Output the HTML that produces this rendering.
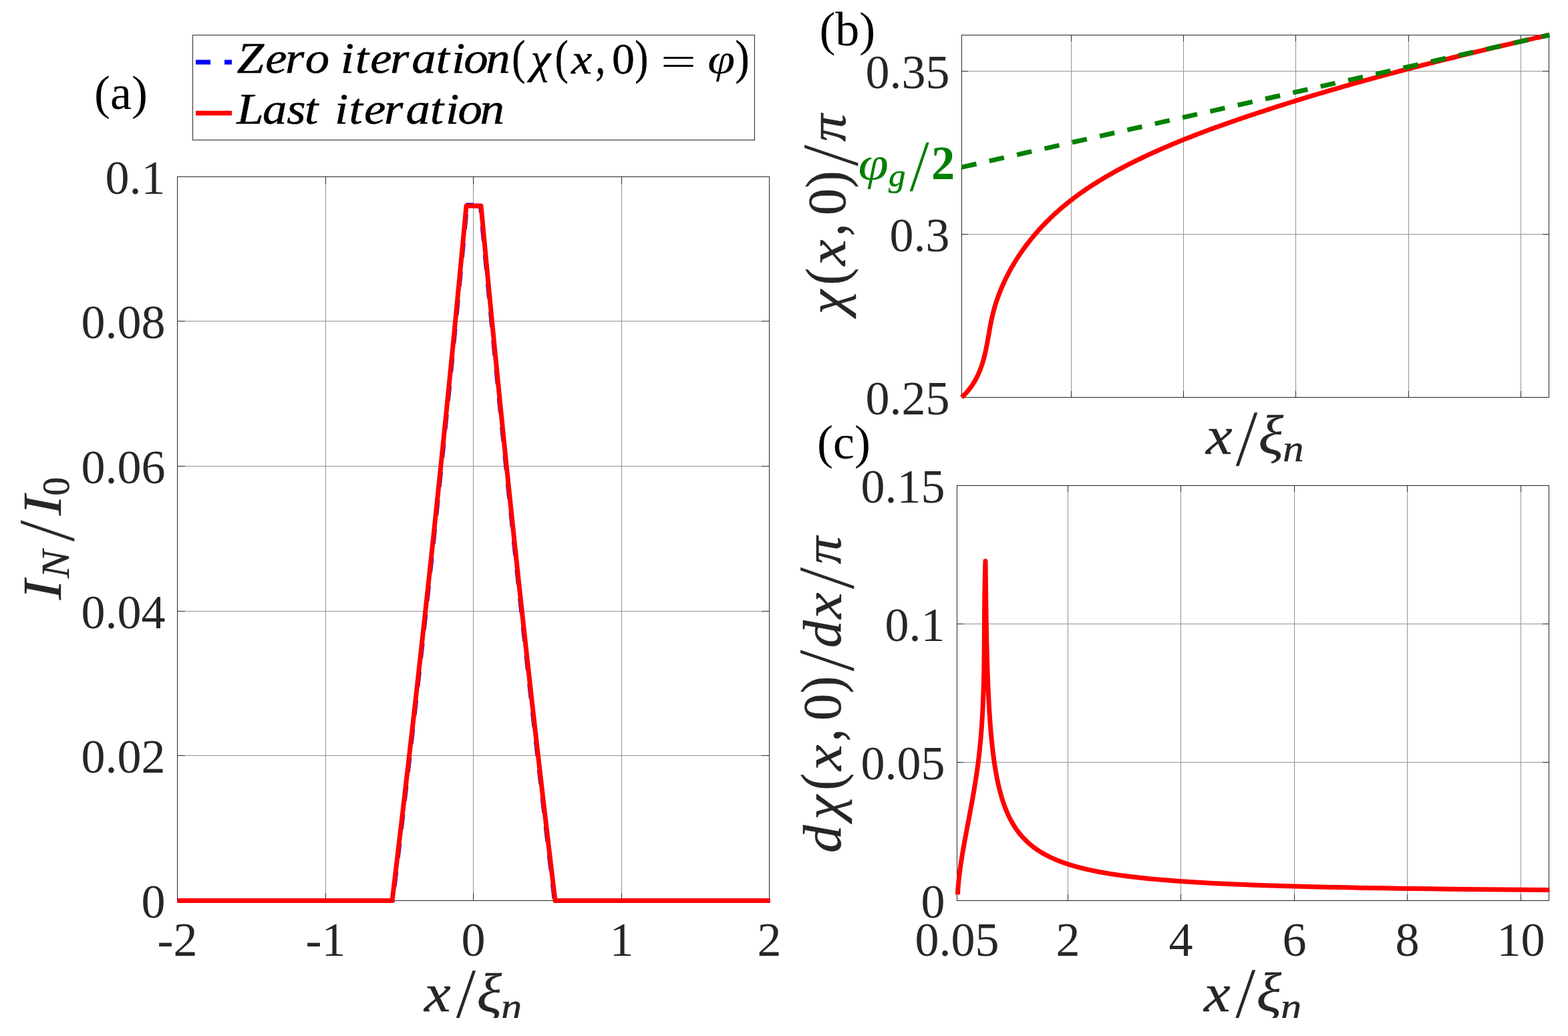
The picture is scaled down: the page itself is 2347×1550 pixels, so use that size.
<!DOCTYPE html>
<html lang="en"><head><meta charset="utf-8"><title>Figure: normal current and phase profiles</title>
<style>html,body{margin:0;padding:0;background:#fff}body{width:2347px;height:1550px;overflow:hidden}svg{display:block;font-family:"Liberation Serif","DejaVu Serif",serif}text{white-space:pre}</style></head><body>
<svg width="2347" height="1550" viewBox="0 0 2347 1550">
<defs><clipPath id="cb"><rect x="0" y="0" width="2347" height="1523"/></clipPath></defs>
<rect width="2347" height="1550" fill="#fff"/>
<path d="M487.5 264.5V1347.5M708.5 264.5V1347.5M930.5 264.5V1347.5M265.5 1130.5H1151.5M265.5 914.5H1151.5M265.5 697.5H1151.5M265.5 480.5H1151.5" stroke="#939393" stroke-width="1" fill="none"/>
<rect x="265.5" y="264.5" width="886" height="1083" stroke="#262626" stroke-width="1" fill="none"/>
<path d="M487.5 1347.5v-11.5M487.5 264.5v11.5M708.5 1347.5v-11.5M708.5 264.5v11.5M930.5 1347.5v-11.5M930.5 264.5v11.5M265.5 1130.5h11.5M1151.5 1130.5h-11.5M265.5 914.5h11.5M1151.5 914.5h-11.5M265.5 697.5h11.5M1151.5 697.5h-11.5M265.5 480.5h11.5M1151.5 480.5h-11.5" stroke="#262626" stroke-width="1" fill="none"/>
<path d="M265.5 1347.5L587.91 1347.5L593.11 1304.19L598.26 1260.88L603.37 1217.56L608.42 1174.25L613.42 1130.94L618.37 1087.62L623.27 1044.31L628.12 1001L632.92 957.69L637.67 914.38L642.37 871.06L647.02 827.75L651.62 784.44L656.17 741.12L660.67 697.81L665.12 654.5L669.52 611.19L673.87 567.88L678.16 524.56L682.41 481.25L686.61 437.94L690.76 394.62L694.85 351.31L698.9 308L719.1 308L723.15 351.31L727.24 394.62L731.39 437.94L735.59 481.25L739.84 524.56L744.13 567.88L748.48 611.19L752.88 654.5L757.33 697.81L761.83 741.12L766.38 784.44L770.98 827.75L775.63 871.06L780.33 914.38L785.08 957.69L789.88 1001L794.73 1044.31L799.63 1087.62L804.58 1130.94L809.58 1174.25L814.63 1217.56L819.74 1260.88L824.89 1304.19L830.09 1347.5L1152.5 1347.5" stroke="#0000ff" stroke-width="6.4" fill="none" stroke-linejoin="round" stroke-dasharray="22 21"/>
<path d="M697.6 307L708.6 307" stroke="#0000ff" stroke-width="7" fill="none" stroke-linejoin="round"/>
<path d="M265.5 1347.5L587.01 1347.5L592.21 1304.19L597.36 1260.88L602.47 1217.56L607.52 1174.25L612.52 1130.94L617.47 1087.62L622.37 1044.31L627.22 1001L632.02 957.69L636.77 914.38L641.47 871.06L646.12 827.75L650.72 784.44L655.27 741.12L659.77 697.81L664.22 654.5L668.62 611.19L672.97 567.88L677.26 524.56L681.51 481.25L685.71 437.94L689.86 394.62L693.95 351.31L698 308L720 308L724.05 351.31L728.14 394.62L732.29 437.94L736.49 481.25L740.74 524.56L745.03 567.88L749.38 611.19L753.78 654.5L758.23 697.81L762.73 741.12L767.28 784.44L771.88 827.75L776.53 871.06L781.23 914.38L785.98 957.69L790.78 1001L795.63 1044.31L800.53 1087.62L805.48 1130.94L810.48 1174.25L815.53 1217.56L820.64 1260.88L825.79 1304.19L830.99 1347.5L1152.5 1347.5" stroke="#ff0000" stroke-width="7" fill="none" stroke-linejoin="round"/>
<path d="M1603.5 52.5V594.5M1771.5 52.5V594.5M1939.5 52.5V594.5M2108.5 52.5V594.5M2276.5 52.5V594.5M1439.5 350.5H2318.5M1439.5 106.5H2318.5" stroke="#939393" stroke-width="1" fill="none"/>
<rect x="1439.5" y="52.5" width="879" height="542" stroke="#262626" stroke-width="1" fill="none"/>
<path d="M1603.5 594.5v-9.5M1603.5 52.5v9.5M1771.5 594.5v-9.5M1771.5 52.5v9.5M1939.5 594.5v-9.5M1939.5 52.5v9.5M2108.5 594.5v-9.5M2108.5 52.5v9.5M2276.5 594.5v-9.5M2276.5 52.5v9.5M1439.5 350.5h9.5M2318.5 350.5h-9.5M1439.5 106.5h9.5M2318.5 106.5h-9.5" stroke="#262626" stroke-width="1" fill="none"/>
<path d="M1439.5 594.5L1442.76 591.41L1445.82 588.21L1448.71 584.92L1451.42 581.54L1453.96 578.08L1456.34 574.53L1458.57 570.91L1460.65 567.22L1462.59 563.46L1464.39 559.64L1466.06 555.76L1467.62 551.84L1469.06 547.86L1470.39 543.84L1471.62 539.79L1472.76 535.7L1473.81 531.58L1474.79 527.44L1475.7 523.28L1476.56 519.1L1477.37 514.9L1478.15 510.7L1478.9 506.48L1479.64 502.26L1480.38 498.03L1481.12 493.81L1481.89 489.59L1482.68 485.38L1483.51 481.18L1484.39 476.99L1485.33 472.82L1486.34 468.67L1487.42 464.54L1488.57 460.44L1489.79 456.35L1491.07 452.28L1492.42 448.24L1493.83 444.22L1495.31 440.23L1496.85 436.26L1498.45 432.31L1500.12 428.39L1501.84 424.49L1503.63 420.62L1505.47 416.77L1507.37 412.95L1509.33 409.16L1511.34 405.4L1513.41 401.66L1515.53 397.95L1517.71 394.27L1519.94 390.62L1522.22 387L1524.55 383.41L1526.93 379.85L1529.36 376.32L1531.84 372.83L1534.36 369.36L1536.93 365.93L1539.55 362.53L1542.21 359.16L1544.91 355.83L1547.65 352.53L1550.44 349.27L1553.27 346.04L1556.14 342.85L1559.04 339.69L1561.99 336.57L1564.97 333.48L1567.98 330.44L1571.04 327.43L1574.12 324.46L1577.24 321.53L1580.4 318.63L1583.58 315.78L1586.8 312.96L1590.04 310.19L1593.32 307.45L1596.62 304.74L1599.96 302.07L1603.32 299.44L1606.7 296.85L1610.12 294.28L1613.56 291.76L1617.02 289.26L1620.51 286.8L1624.02 284.37L1627.55 281.97L1631.11 279.6L1634.69 277.26L1638.29 274.96L1641.91 272.68L1645.54 270.43L1649.2 268.21L1652.88 266.01L1656.57 263.84L1660.28 261.7L1664 259.59L1667.74 257.49L1671.5 255.43L1675.26 253.39L1679.05 251.37L1682.84 249.37L1686.65 247.4L1690.46 245.44L1694.29 243.51L1698.13 241.6L1701.97 239.71L1705.83 237.84L1709.69 235.99L1713.56 234.15L1717.44 232.33L1721.32 230.54L1725.22 228.75L1729.12 226.99L1733.02 225.24L1736.94 223.51L1740.86 221.8L1744.78 220.1L1748.72 218.42L1752.66 216.75L1756.6 215.09L1760.55 213.46L1764.51 211.83L1768.47 210.22L1772.44 208.62L1776.42 207.04L1780.39 205.47L1784.38 203.91L1788.37 202.37L1792.36 200.83L1796.36 199.31L1800.36 197.8L1804.37 196.3L1808.38 194.81L1812.39 193.33L1816.41 191.86L1820.43 190.4L1824.46 188.96L1828.49 187.52L1832.52 186.08L1836.55 184.66L1840.59 183.25L1844.63 181.84L1848.68 180.44L1852.72 179.05L1856.77 177.66L1860.82 176.28L1864.87 174.91L1868.93 173.54L1872.98 172.18L1877.04 170.82L1881.1 169.48L1885.16 168.13L1889.22 166.8L1893.29 165.46L1897.36 164.14L1901.43 162.82L1905.5 161.51L1909.57 160.2L1913.65 158.9L1917.72 157.6L1921.8 156.31L1925.88 155.02L1929.96 153.74L1934.04 152.47L1938.13 151.2L1942.22 149.93L1946.3 148.68L1950.39 147.42L1954.49 146.18L1958.58 144.93L1962.67 143.7L1966.77 142.46L1970.87 141.24L1974.97 140.01L1979.07 138.8L1983.17 137.58L1987.27 136.38L1991.38 135.17L1995.49 133.98L1999.59 132.78L2003.7 131.6L2007.82 130.41L2011.93 129.23L2016.04 128.06L2020.16 126.89L2024.27 125.73L2028.39 124.57L2032.51 123.41L2036.63 122.26L2040.75 121.11L2044.88 119.97L2049 118.83L2053.13 117.7L2057.25 116.57L2061.38 115.44L2065.51 114.32L2069.64 113.21L2073.77 112.09L2077.91 110.98L2082.04 109.88L2086.17 108.78L2090.31 107.68L2094.45 106.59L2098.59 105.5L2102.72 104.41L2106.87 103.33L2111.01 102.25L2115.15 101.18L2119.29 100.11L2123.44 99.04L2127.58 97.98L2131.73 96.92L2135.87 95.86L2140.02 94.81L2144.17 93.76L2148.32 92.71L2152.47 91.67L2156.62 90.63L2160.77 89.59L2164.93 88.56L2169.08 87.53L2173.23 86.5L2177.39 85.48L2181.55 84.46L2185.7 83.44L2189.86 82.43L2194.02 81.41L2198.18 80.4L2202.34 79.4L2206.5 78.39L2210.66 77.39L2214.82 76.4L2218.98 75.4L2223.14 74.41L2227.31 73.42L2231.47 72.43L2235.63 71.44L2239.8 70.46L2243.96 69.48L2248.13 68.5L2252.29 67.53L2256.46 66.55L2260.63 65.58L2264.79 64.61L2268.96 63.65L2273.13 62.68L2277.3 61.72L2281.47 60.76L2285.64 59.8L2289.81 58.84L2293.98 57.89L2298.15 56.94L2302.32 55.99L2306.49 55.04L2310.66 54.09L2314.83 53.14L2319 52.2" stroke="#ff0000" stroke-width="7" fill="none" stroke-linejoin="round"/>
<path d="M1439.5 250.2L2319.5 52.3" stroke="#008000" stroke-width="7" fill="none" stroke-linejoin="round" stroke-dasharray="22.6 19.75"/>
<path d="M1598.5 726.5V1347.5M1767.5 726.5V1347.5M1937.5 726.5V1347.5M2106.5 726.5V1347.5M2276.5 726.5V1347.5M1432.5 1140.5H2318.5M1432.5 933.5H2318.5" stroke="#939393" stroke-width="1" fill="none"/>
<rect x="1432.5" y="726.5" width="886" height="621" stroke="#262626" stroke-width="1" fill="none"/>
<path d="M1598.5 1347.5v-9.5M1598.5 726.5v9.5M1767.5 1347.5v-9.5M1767.5 726.5v9.5M1937.5 1347.5v-9.5M1937.5 726.5v9.5M2106.5 1347.5v-9.5M2106.5 726.5v9.5M2276.5 1347.5v-9.5M2276.5 726.5v9.5M1432.5 1140.5h9.5M2318.5 1140.5h-9.5M1432.5 933.5h9.5M2318.5 933.5h-9.5" stroke="#262626" stroke-width="1" fill="none"/>
<path d="M1433.4 1338.4L1433.73 1332.79L1434.15 1327.19L1434.64 1321.58L1435.2 1315.98L1435.82 1310.37L1436.51 1304.77L1437.25 1299.16L1438.05 1293.56L1438.89 1287.95L1439.77 1282.34L1440.7 1276.74L1441.65 1271.13L1442.64 1265.53L1443.65 1259.92L1444.67 1254.32L1445.72 1248.71L1446.77 1243.1L1447.83 1237.5L1448.89 1231.89L1449.95 1226.29L1451.01 1220.68L1452.06 1215.08L1453.1 1209.47L1454.13 1203.87L1455.15 1198.26L1456.15 1192.65L1457.14 1187.05L1458.1 1181.44L1459.03 1175.84L1459.94 1170.23L1460.82 1164.63L1461.67 1159.02L1462.48 1153.41L1463.25 1147.81L1463.99 1142.2L1464.68 1136.6L1465.35 1130.99L1465.97 1125.39L1466.56 1119.78L1467.12 1114.18L1467.64 1108.57L1468.14 1102.96L1468.6 1097.36L1469.03 1091.75L1469.43 1086.15L1469.81 1080.54L1470.16 1074.94L1470.49 1069.33L1470.79 1063.72L1471.07 1058.12L1471.32 1052.51L1471.56 1046.91L1471.77 1041.3L1471.97 1035.7L1472.15 1030.09L1472.31 1024.49L1472.46 1018.88L1472.59 1013.27L1472.7 1007.67L1472.81 1002.06L1472.9 996.46L1472.98 990.85L1473.05 985.25L1473.12 979.64L1473.17 974.03L1473.22 968.43L1473.27 962.82L1473.31 957.22L1473.34 951.61L1473.38 946.01L1473.41 940.4L1473.45 934.8L1473.48 929.19L1473.52 923.58L1473.56 917.98L1473.6 912.37L1473.65 906.77L1473.7 901.16L1473.76 895.56L1473.83 889.95L1473.91 884.34L1474 878.74L1474.1 873.13L1474.21 867.53L1474.34 861.92L1474.48 856.32L1474.64 850.71L1474.81 845.11L1475 839.5L1475.17 848.4L1475.18 849.08L1475.18 849.8L1475.19 850.53L1475.2 851.3L1475.21 852.09L1475.21 852.91L1475.22 853.76L1475.23 854.65L1475.24 855.56L1475.25 856.5L1475.26 857.48L1475.27 858.49L1475.28 859.54L1475.29 860.61L1475.3 861.73L1475.32 862.88L1475.33 864.07L1475.34 865.3L1475.35 866.56L1475.37 867.87L1475.38 869.21L1475.4 870.6L1475.41 872.02L1475.43 873.49L1475.45 875L1475.47 876.55L1475.48 878.15L1475.5 879.79L1475.52 881.47L1475.54 883.2L1475.57 884.98L1475.59 886.79L1475.61 888.66L1475.64 890.57L1475.66 892.52L1475.69 894.52L1475.71 896.57L1475.74 898.66L1475.77 900.8L1475.8 902.99L1475.83 905.22L1475.87 907.5L1475.9 909.82L1475.94 912.19L1475.98 914.61L1476.01 917.06L1476.05 919.57L1476.1 922.12L1476.14 924.71L1476.18 927.34L1476.23 930.02L1476.28 932.74L1476.33 935.5L1476.38 938.31L1476.44 941.15L1476.5 944.04L1476.55 946.96L1476.62 949.92L1476.68 952.92L1476.75 955.96L1476.82 959.03L1476.89 962.14L1476.96 965.28L1477.04 968.46L1477.12 971.67L1477.21 974.91L1477.29 978.18L1477.38 981.48L1477.48 984.81L1477.58 988.16L1477.68 991.55L1477.79 994.96L1477.9 998.39L1478.01 1001.85L1478.13 1005.33L1478.25 1008.83L1478.38 1012.35L1478.52 1015.9L1478.66 1019.46L1478.8 1023.03L1478.95 1026.63L1479.11 1030.24L1479.27 1033.86L1479.44 1037.49L1479.62 1041.14L1479.8 1044.8L1479.99 1048.46L1480.19 1052.14L1480.39 1055.82L1480.61 1059.51L1480.83 1063.2L1481.06 1066.9L1481.3 1070.6L1481.55 1074.3L1481.81 1078L1482.08 1081.7L1482.36 1085.4L1482.65 1089.1L1482.96 1092.79L1483.27 1096.48L1483.6 1100.16L1483.94 1103.84L1484.29 1107.51L1484.66 1111.16L1485.05 1114.81L1485.44 1118.45L1485.86 1122.08L1486.29 1125.69L1486.74 1129.29L1487.2 1132.87L1487.69 1136.44L1488.19 1140L1488.71 1143.53L1489.25 1147.04L1489.82 1150.54L1490.41 1154.02L1491.02 1157.47L1491.65 1160.9L1492.31 1164.31L1493 1167.7L1493.71 1171.06L1494.45 1174.39L1495.23 1177.7L1496.03 1180.98L1496.86 1184.24L1497.73 1187.46L1498.63 1190.66L1499.56 1193.82L1500.54 1196.96L1501.55 1200.06L1502.6 1203.14L1503.7 1206.17L1504.83 1209.18L1506.02 1212.15L1507.25 1215.09L1508.52 1218L1509.85 1220.86L1511.24 1223.7L1512.67 1226.49L1514.16 1229.25L1515.72 1231.97L1517.33 1234.66L1519.01 1237.3L1520.75 1239.91L1522.57 1242.48L1524.45 1245.01L1526.41 1247.5L1528.45 1249.95L1530.57 1252.36L1532.77 1254.73L1535.06 1257.06L1537.44 1259.35L1539.92 1261.6L1542.49 1263.81L1545.17 1265.97L1547.95 1268.1L1550.84 1270.19L1553.85 1272.23L1556.97 1274.24L1560.22 1276.2L1563.6 1278.12L1567.11 1280L1570.76 1281.84L1574.56 1283.64L1578.5 1285.4L1582.61 1287.12L1586.87 1288.8L1591.31 1290.44L1595.92 1292.04L1600.71 1293.6L1605.69 1295.12L1610.87 1296.6L1616.26 1298.04L1621.86 1299.45L1627.68 1300.82L1633.73 1302.15L1640.02 1303.44L1646.56 1304.7L1653.37 1305.92L1660.44 1307.11L1667.79 1308.26L1675.43 1309.37L1683.37 1310.45L1691.63 1311.5L1700.22 1312.51L1709.15 1313.49L1718.43 1314.44L1728.08 1315.36L1738.11 1316.25L1748.54 1317.11L1759.38 1317.93L1770.65 1318.73L1782.37 1319.5L1794.56 1320.24L1807.22 1320.95L1820.39 1321.64L1834.08 1322.3L1848.32 1322.94L1863.11 1323.55L1878.5 1324.13L1894.49 1324.7L1911.12 1325.24L1928.41 1325.75L1946.38 1326.25L1965.07 1326.72L1984.49 1327.17L2004.69 1327.61L2025.68 1328.02L2047.51 1328.42L2070.2 1328.8L2093.8 1329.16L2118.33 1329.5L2143.83 1329.82L2170.34 1330.13L2197.9 1330.43L2226.56 1330.71L2256.35 1330.98L2287.32 1331.23L2319.52 1331.47" stroke="#ff0000" stroke-width="7" fill="none" stroke-linejoin="round"/>
<rect x="288.5" y="52.5" width="841" height="157" fill="#fff" stroke="#262626" stroke-width="1"/>
<path d="M293 93H315M336 93H347" stroke="#0000ff" stroke-width="7" fill="none"/>
<path d="M293 169.3H347" stroke="#ff0000" stroke-width="7" fill="none"/>
<text transform="translate(0 108.8) scale(1.12 1)" x="316.57 354.81 381.25 407.77 419.77 455.19 474.78 494.9 521.48 550.34 582.64 603.58 619.91 649.43" y="0" font-size="65" font-style="italic" fill="#000" stroke="#000" stroke-width="0.55">Zero iteration</text>
<g><text transform="translate(769 108.8) scale(0.9253 1.1029)" x="-2.85" y="0.89" font-size="64.8" fill="#000" stroke="#000" stroke-width="0.54">(</text><text transform="translate(789.2 108.8) scale(1.0392 0.9674)" x="5.19" y="-0.06" font-size="64.8" font-style="italic" fill="#000" stroke="#000" stroke-width="0.5">χ</text><text transform="translate(833.3 108.8) scale(0.9193 1.1029)" x="-2.85" y="0.89" font-size="64.8" fill="#000" stroke="#000" stroke-width="0.54">(</text><text transform="translate(854.3 108.8) scale(1.0764 0.9935)" x="0.79" y="0.72" font-size="64.8" font-style="italic" fill="#000" stroke="#000" stroke-width="0.44">x</text><text transform="translate(893.6 108.8) scale(0.9015 1.1681)" x="-2.47" y="0.8" font-size="64.8" fill="#000" stroke="#000" stroke-width="0.53">,</text><text transform="translate(918.6 108.8) scale(1.045 1.0196)" x="-2.47" y="0.77" font-size="64.8" fill="#000" stroke="#000" stroke-width="0.48">0</text><text transform="translate(952.1 108.8) scale(0.9253 1.1029)" x="-2.09" y="0.89" font-size="64.8" fill="#000" stroke="#000" stroke-width="0.54">)</text><text transform="translate(993.4 108.8) scale(1.4625 0.936)" x="-3.23" y="4.21" font-size="64.8" fill="#000">=</text><text transform="translate(1061.33 108.8) scale(1.14 0.9495)" x="-1.93" y="0.2" font-size="64.8" font-style="italic" fill="#000">φ</text><text transform="translate(1102.6 108.8) scale(0.9794 1.1029)" x="-2.09" y="0.89" font-size="64.8" fill="#000" stroke="#000" stroke-width="0.53">)</text></g>
<text transform="translate(0 185.1) scale(1.12 1)" x="316.35 350.83 383.21 407.24 419.24 447.38 466.44 486.56 513.48 542.4 574.7 595.64 611.96 641.49" y="0" font-size="65" font-style="italic" fill="#000" stroke="#000" stroke-width="0.55">Last iteration</text>
<text x="141" y="162.8" font-size="72" text-anchor="start" fill="#000">(a)</text>
<text x="1226.4" y="67.7" font-size="72" text-anchor="start" fill="#000">(b)</text>
<text x="1223" y="685.6" font-size="72" text-anchor="start" fill="#000">(c)</text>
<text x="247.5" y="289.5" font-size="72" text-anchor="end" fill="#262626">0.1</text>
<text x="247.5" y="505.5" font-size="72" text-anchor="end" fill="#262626">0.08</text>
<text x="247.5" y="722.5" font-size="72" text-anchor="end" fill="#262626">0.06</text>
<text x="247.5" y="939.5" font-size="72" text-anchor="end" fill="#262626">0.04</text>
<text x="247.5" y="1155.5" font-size="72" text-anchor="end" fill="#262626">0.02</text>
<text x="247.5" y="1372.5" font-size="72" text-anchor="end" fill="#262626">0</text>
<text x="265.5" y="1430" font-size="72" text-anchor="middle" fill="#262626">-2</text>
<text x="487.5" y="1430" font-size="72" text-anchor="middle" fill="#262626">-1</text>
<text x="708.5" y="1430" font-size="72" text-anchor="middle" fill="#262626">0</text>
<text x="930.5" y="1430" font-size="72" text-anchor="middle" fill="#262626">1</text>
<text x="1151.5" y="1430" font-size="72" text-anchor="middle" fill="#262626">2</text>
<text x="1421.5" y="131.5" font-size="72" text-anchor="end" fill="#262626">0.35</text>
<text x="1421.5" y="375.5" font-size="72" text-anchor="end" fill="#262626">0.3</text>
<text x="1421.5" y="619.5" font-size="72" text-anchor="end" fill="#262626">0.25</text>
<text x="1414.5" y="751.5" font-size="72" text-anchor="end" fill="#262626">0.15</text>
<text x="1414.5" y="958.5" font-size="72" text-anchor="end" fill="#262626">0.1</text>
<text x="1414.5" y="1165.5" font-size="72" text-anchor="end" fill="#262626">0.05</text>
<text x="1414.5" y="1372.5" font-size="72" text-anchor="end" fill="#262626">0</text>
<text x="1432.5" y="1430" font-size="72" text-anchor="middle" fill="#262626">0.05</text>
<text x="1598.5" y="1430" font-size="72" text-anchor="middle" fill="#262626">2</text>
<text x="1767.5" y="1430" font-size="72" text-anchor="middle" fill="#262626">4</text>
<text x="1937.5" y="1430" font-size="72" text-anchor="middle" fill="#262626">6</text>
<text x="2106.5" y="1430" font-size="72" text-anchor="middle" fill="#262626">8</text>
<text x="2276.5" y="1430" font-size="72" text-anchor="middle" fill="#262626">10</text>
<g clip-path="url(#cb)"><text transform="translate(633.9 1512.8) scale(1.1283 1.0123)" x="0.97" y="0.59" font-size="79.2" font-style="italic" fill="#262626" stroke="#262626" stroke-width="0.37">x</text><text transform="translate(679.9 1512.8) scale(1.0072 1.4987)" x="3.64" y="11.97" font-size="79.2" font-style="italic" fill="#262626" stroke="#262626" stroke-width="0.43">/</text><text transform="translate(716.7 1512.8) scale(1.1004 1.0303)" x="-2.71" y="0.79" font-size="79.2" font-style="italic" fill="#262626" stroke="#262626" stroke-width="0.4">ξ</text><text transform="translate(752.04 1524.7) scale(1.14 1.0183)" x="-1.98" y="0.39" font-size="55.44" font-style="italic" fill="#262626" stroke="#262626" stroke-width="0.35">n</text></g>
<g><text transform="translate(1804 678.1) scale(1.1283 1.0123)" x="0.97" y="0.59" font-size="79.2" font-style="italic" fill="#262626" stroke="#262626" stroke-width="0.37">x</text><text transform="translate(1850 678.1) scale(1.0072 1.4987)" x="3.64" y="11.97" font-size="79.2" font-style="italic" fill="#262626" stroke="#262626" stroke-width="0.43">/</text><text transform="translate(1886.8 678.1) scale(1.1004 1.0303)" x="-2.71" y="0.79" font-size="79.2" font-style="italic" fill="#262626" stroke="#262626" stroke-width="0.4">ξ</text><text transform="translate(1922.14 690) scale(1.14 1.0183)" x="-1.98" y="0.39" font-size="55.44" font-style="italic" fill="#262626" stroke="#262626" stroke-width="0.35">n</text></g>
<g clip-path="url(#cb)"><text transform="translate(1800.8 1512.3) scale(1.1283 1.0123)" x="0.97" y="0.59" font-size="79.2" font-style="italic" fill="#262626" stroke="#262626" stroke-width="0.37">x</text><text transform="translate(1846.8 1512.3) scale(1.0072 1.4987)" x="3.64" y="11.97" font-size="79.2" font-style="italic" fill="#262626" stroke="#262626" stroke-width="0.43">/</text><text transform="translate(1883.6 1512.3) scale(1.1004 1.0303)" x="-2.71" y="0.79" font-size="79.2" font-style="italic" fill="#262626" stroke="#262626" stroke-width="0.4">ξ</text><text transform="translate(1918.94 1524.2) scale(1.14 1.0183)" x="-1.98" y="0.39" font-size="55.44" font-style="italic" fill="#262626" stroke="#262626" stroke-width="0.35">n</text></g>
<g><text transform="translate(90.7 897.87) rotate(-90) scale(1.14 1.0374)" x="0.31" y="0" font-size="79.2" font-style="italic" fill="#262626" stroke="#262626" stroke-width="0.35">I</text><text transform="translate(102.9 865.42) rotate(-90) scale(1.14 1.0523)" x="0.41" y="0" font-size="55.44" font-style="italic" fill="#262626" stroke="#262626" stroke-width="0.35">N</text><text transform="translate(90.7 809.8) rotate(-90) scale(0.9851 1.5043)" x="3.64" y="12.59" font-size="79.2" font-style="italic" fill="#262626" stroke="#262626" stroke-width="0.44">/</text><text transform="translate(90.7 771.52) rotate(-90) scale(1.14 1.0374)" x="0.31" y="0" font-size="79.2" font-style="italic" fill="#262626" stroke="#262626" stroke-width="0.35">I</text><text transform="translate(102.9 739.3) rotate(-90) scale(0.9916 1.0131)" x="-2.11" y="0.54" font-size="55.44" fill="#262626" stroke="#262626" stroke-width="0.55">0</text></g>
<g><text transform="translate(1264.6 476.9) rotate(-90) scale(1.0442 0.9866)" x="6.34" y="-0.14" font-size="79.2" font-style="italic" fill="#262626" stroke="#262626" stroke-width="0.49">χ</text><text transform="translate(1264.6 422.9) rotate(-90) scale(0.9586 1.1029)" x="-3.48" y="1.09" font-size="79.2" fill="#262626" stroke="#262626" stroke-width="0.53">(</text><text transform="translate(1264.6 398.2) rotate(-90) scale(1.103 1.0123)" x="0.97" y="0.59" font-size="79.2" font-style="italic" fill="#262626" stroke="#262626" stroke-width="0.4">x</text><text transform="translate(1264.6 350.3) rotate(-90) scale(0.9326 1.2094)" x="-3.02" y="-0.11" font-size="79.2" fill="#262626" stroke="#262626" stroke-width="0.51">,</text><text transform="translate(1264.6 319) rotate(-90) scale(1.0129 1.0085)" x="-3.02" y="0.32" font-size="79.2" fill="#262626" stroke="#262626" stroke-width="0.53">0</text><text transform="translate(1264.6 278.8) rotate(-90) scale(0.9685 1.1029)" x="-2.55" y="1.09" font-size="79.2" fill="#262626" stroke="#262626" stroke-width="0.53">)</text><text transform="translate(1264.6 248) rotate(-90) scale(0.9788 1.4949)" x="3.64" y="12.47" font-size="79.2" font-style="italic" fill="#262626" stroke="#262626" stroke-width="0.44">/</text><text transform="translate(1264.6 211.6) rotate(-90) scale(1.0421 0.9805)" x="-0.43" y="0.25" font-size="79.2" font-style="italic" fill="#262626" stroke="#262626" stroke-width="0.49">π</text></g>
<g><text transform="translate(1258 1273.4) rotate(-90) scale(1.0482 1.0042)" x="-2.4" y="0.18" font-size="79.2" font-style="italic" fill="#262626" stroke="#262626" stroke-width="0.48">d</text><text transform="translate(1258 1232.8) rotate(-90) scale(1.0442 0.9866)" x="6.34" y="-0.14" font-size="79.2" font-style="italic" fill="#262626" stroke="#262626" stroke-width="0.49">χ</text><text transform="translate(1258 1178.8) rotate(-90) scale(0.9586 1.1029)" x="-3.48" y="1.09" font-size="79.2" fill="#262626" stroke="#262626" stroke-width="0.53">(</text><text transform="translate(1258 1154.1) rotate(-90) scale(1.103 1.0123)" x="0.97" y="0.59" font-size="79.2" font-style="italic" fill="#262626" stroke="#262626" stroke-width="0.4">x</text><text transform="translate(1258 1106.2) rotate(-90) scale(0.9326 1.2094)" x="-3.02" y="-0.11" font-size="79.2" fill="#262626" stroke="#262626" stroke-width="0.51">,</text><text transform="translate(1258 1074.9) rotate(-90) scale(1.0129 1.0085)" x="-3.02" y="0.32" font-size="79.2" fill="#262626" stroke="#262626" stroke-width="0.53">0</text><text transform="translate(1258 1034.7) rotate(-90) scale(0.9685 1.1029)" x="-2.55" y="1.09" font-size="79.2" fill="#262626" stroke="#262626" stroke-width="0.53">)</text><text transform="translate(1258 1003.9) rotate(-90) scale(0.9788 1.4949)" x="3.64" y="12.47" font-size="79.2" font-style="italic" fill="#262626" stroke="#262626" stroke-width="0.44">/</text><text transform="translate(1258 966.8) rotate(-90) scale(1.0349 1.0042)" x="-2.4" y="0.18" font-size="79.2" font-style="italic" fill="#262626" stroke="#262626" stroke-width="0.5">d</text><text transform="translate(1258 926.7) rotate(-90) scale(1.1114 1.0123)" x="0.97" y="0.59" font-size="79.2" font-style="italic" fill="#262626" stroke="#262626" stroke-width="0.39">x</text><text transform="translate(1258 880.9) rotate(-90) scale(1.0009 1.4949)" x="3.64" y="12.47" font-size="79.2" font-style="italic" fill="#262626" stroke="#262626" stroke-width="0.44">/</text><text transform="translate(1258 843.6) rotate(-90) scale(1.0421 0.9805)" x="-0.43" y="0.25" font-size="79.2" font-style="italic" fill="#262626" stroke="#262626" stroke-width="0.49">π</text></g>
<g><text transform="translate(1287.04 268) scale(1.14 0.9556)" x="-2.14" y="0.37" font-size="72" font-style="italic" fill="#008000">φ</text><text transform="translate(1330 268) scale(1.0127 0.9462)" x="-0.02" y="11.46" font-size="50.4" font-style="italic" fill="#008000" stroke="#008000" stroke-width="0.55">g</text><text transform="translate(1362 268) scale(0.9829 1.4928)" x="3.3" y="11.29" font-size="72" font-style="italic" fill="#008000" stroke="#008000" stroke-width="0.44">/</text><text transform="translate(1396.9 268) scale(0.9772 1.0048)" x="-3.02" y="0" font-size="72" font-weight="bold" fill="#008000">2</text></g>
</svg></body></html>
